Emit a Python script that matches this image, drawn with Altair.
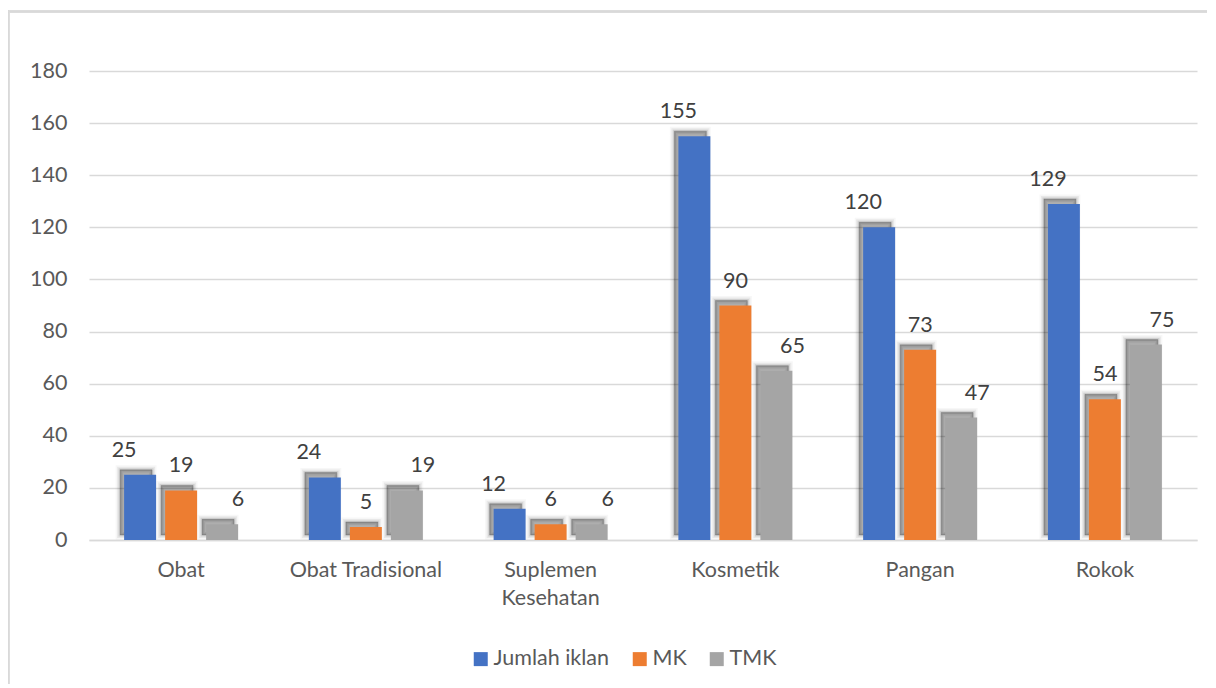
import altair as alt
import pandas as pd

categories = ["Obat", "Obat Tradisional", "Suplemen Kesehatan", "Kosmetik", "Pangan", "Rokok"]
series = ["Jumlah iklan", "MK", "TMK"]
jumlah_iklan = [25, 24, 12, 155, 120, 129]
mk = [19, 5, 6, 90, 73, 54]
tmk = [6, 19, 6, 65, 47, 75]
colors = ["#4472C4", "#ED7D31", "#A5A5A5"]
y_ticks = [0, 20, 40, 60, 80, 100, 120, 140, 160, 180]

rows = []
for s, vals in zip(series, [jumlah_iklan, mk, tmk]):
    for c, v in zip(categories, vals):
        rows.append({"Kategori": c, "Seri": s, "Nilai": v})
df = pd.DataFrame(rows)

FONT = "Lato"
FS = 21.5

x_enc = alt.X(
    "Kategori:N",
    sort=categories,
    scale=alt.Scale(paddingInner=0.383, paddingOuter=0.19),
    axis=alt.Axis(
        title=None,
        labelAngle=0,
        labelFont=FONT,
        labelFontSize=FS,
        labelColor="#595959",
        labelPadding=19,
        labelLineHeight=28,
        labelExpr="datum.label == 'Suplemen Kesehatan' ? ['Suplemen', 'Kesehatan'] : datum.label",
        ticks=False,
        domain=True,
        domainColor="#D9D9D9",
        domainWidth=1.3,
        grid=False,
    ),
)
xoff_main = alt.XOffset("Seri:N", sort=series, scale=alt.Scale(paddingInner=0.22, paddingOuter=0))
xoff_shadow = alt.XOffset(
    "Seri:N", sort=series, scale=alt.Scale(paddingInner=0.22, paddingOuter=0, range=[-4, 110])
)
y_enc = alt.Y(
    "Nilai:Q",
    scale=alt.Scale(domain=[0, 180], nice=False),
    axis=alt.Axis(
        title=None,
        values=y_ticks,
        labelFont=FONT,
        labelFontSize=FS,
        labelColor="#595959",
        labelPadding=22,
        ticks=False,
        domain=False,
        grid=True,
        gridColor="#D9D9D9",
        gridWidth=1.3,
    ),
)

base = alt.Chart(df)

shadow_specs = [(9, 0.03), (6, 0.06), (3, 0.10), (1, 0.14)]
shadow_layers = [
    base.mark_bar(
        color="black", fillOpacity=op, stroke="black", strokeOpacity=op, strokeWidth=sw, yOffset=-5
    ).encode(x=x_enc, xOffset=xoff_shadow, y=y_enc)
    for sw, op in shadow_specs
]
shadow = alt.layer(*shadow_layers)

bars = base.mark_bar(strokeWidth=0).encode(
    x=x_enc,
    xOffset=xoff_main,
    y=y_enc,
    color=alt.Color(
        "Seri:N",
        sort=series,
        scale=alt.Scale(domain=series, range=colors),
        legend=alt.Legend(
            title=None,
            orient="none",
            direction="horizontal",
            legendX=381,
            legendY=577,
            symbolType="square",
            symbolSize=196,
            symbolStrokeWidth=0,
            symbolOpacity=1,
            labelFont=FONT,
            labelFontSize=FS,
            labelColor="#595959",
            labelOffset=2,
            columnPadding=19,
        ),
    ),
)

labels = base.mark_text(
    font=FONT, fontSize=FS, color="#404040", baseline="alphabetic", dy=-18
).encode(x=x_enc, xOffset=xoff_main, y=y_enc, text=alt.Text("Nilai:Q"))

border_left = alt.Chart(df).mark_rule(color="#D9D9D9", strokeWidth=1.3).encode(
    x=alt.value(-80.5), y=alt.value(-59.5), y2=alt.value(700)
)
border_top = alt.Chart(df).mark_rule(color="#D9D9D9", strokeWidth=1.3).encode(
    x=alt.value(-80.5), x2=alt.value(1200), y=alt.value(-59.5)
)

chart = (
    alt.layer(border_left, border_top, shadow, bars, labels)
    .resolve_scale(xOffset="independent")
    .properties(
        width=1108,
        height=469,
        autosize=alt.AutoSizeParams(type="none"),
        padding={"left": 81, "top": 63, "right": 10, "bottom": 144},
        background="white",
    )
    .configure_view(stroke=None)
)

chart.save("out.html", embed_options={"renderer": "svg", "actions": False})
